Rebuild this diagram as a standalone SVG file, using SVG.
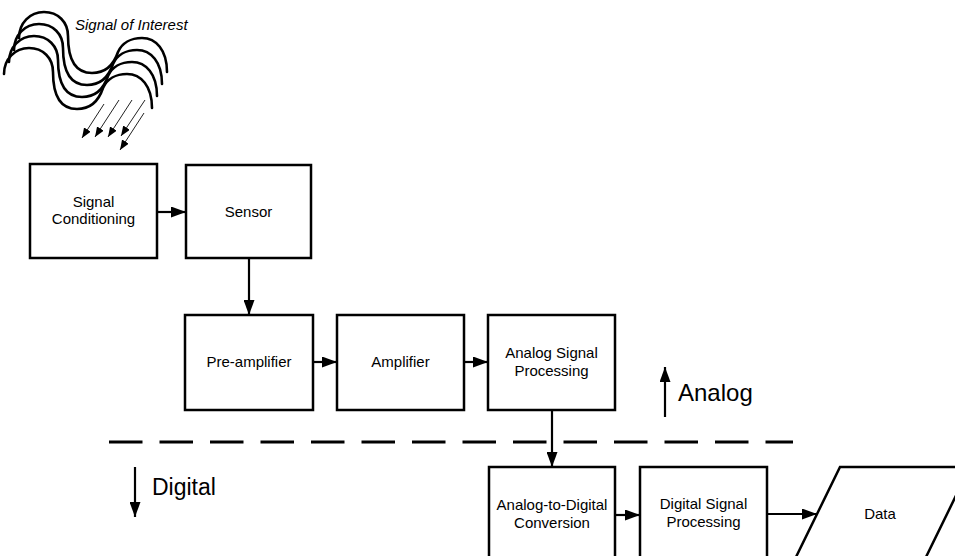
<svg xmlns="http://www.w3.org/2000/svg" xmlns:xlink="http://www.w3.org/1999/xlink" width="955" height="556" viewBox="0 0 955 556">
  <style>
    .box { fill: #fff; stroke: #000; stroke-width: 2.5; }
    .lbl { font-family: "Liberation Sans", Arial, sans-serif; font-size: 15px; fill: #000; text-anchor: middle; }
    .big { font-family: "Liberation Sans", Arial, sans-serif; font-size: 24px; fill: #000; }
    .conn { fill: none; stroke: #000; stroke-width: 2.2; }
    .wave { fill: none; stroke: #000; stroke-width: 2.6; stroke-linecap: round; }
    .ray { fill: none; stroke: #222; stroke-width: 1; }
  </style>
  <defs>
    <marker id="arrow" viewBox="0 0 15 11" markerWidth="15" markerHeight="11" refX="15" refY="5.5" orient="auto" markerUnits="userSpaceOnUse">
      <path d="M0,0 L15,5.5 L0,11 z" fill="#000"/>
    </marker>
    <marker id="rayhead" viewBox="0 0 10 8" markerWidth="10" markerHeight="8" refX="10" refY="4" orient="auto" markerUnits="userSpaceOnUse">
      <path d="M0,0 L10,4 L0,8 z" fill="#000"/>
    </marker>
    <!-- one wave front; the others are shifted copies -->
    <path id="wavecurve" class="wave" d="M19,38 C19,23 30,12 44,12 C58,12 68,22 68,36 C68,55 73,73 92,73 C107,73 114,64 118,52 C122,43 131,38 142,38 C156,38 167,50 167,72"/>
  </defs>

  <!-- incoming signal: stacked wave fronts with rays -->
  <g id="signal">
    <use xlink:href="#wavecurve"/>
    <use xlink:href="#wavecurve" transform="translate(-5,12)"/>
    <use xlink:href="#wavecurve" transform="translate(-10,24)"/>
    <use xlink:href="#wavecurve" transform="translate(-15,36)"/>
    <line class="ray" x1="104" y1="104" x2="82" y2="138" marker-end="url(#rayhead)"/>
    <line class="ray" x1="119" y1="100" x2="95" y2="137" marker-end="url(#rayhead)"/>
    <line class="ray" x1="132" y1="100" x2="108" y2="137" marker-end="url(#rayhead)"/>
    <line class="ray" x1="145" y1="100" x2="121" y2="136" marker-end="url(#rayhead)"/>
    <line class="ray" x1="144" y1="113" x2="120" y2="150" marker-end="url(#rayhead)"/>
    <text x="75" y="30" class="lbl" style="text-anchor:start;font-style:italic">Signal of Interest</text>
  </g>

  <g id="connectors">
    <line class="conn" x1="157" y1="212" x2="186" y2="212" marker-end="url(#arrow)"/>
    <line class="conn" x1="249" y1="258" x2="249" y2="315" marker-end="url(#arrow)"/>
    <line class="conn" x1="313" y1="362" x2="337" y2="362" marker-end="url(#arrow)"/>
    <line class="conn" x1="464" y1="362" x2="488" y2="362" marker-end="url(#arrow)"/>
    <line class="conn" x1="552" y1="410" x2="552" y2="467" marker-end="url(#arrow)"/>
    <line class="conn" x1="615" y1="515" x2="640" y2="515" marker-end="url(#arrow)"/>
    <line class="conn" x1="767" y1="514" x2="817" y2="514" marker-end="url(#arrow)"/>
  </g>

  <g id="signal-conditioning">
    <rect class="box" x="30" y="164" width="127" height="94"/>
    <text class="lbl" x="93.5" y="207">Signal</text>
    <text class="lbl" x="93.5" y="224">Conditioning</text>
  </g>
  <g id="sensor">
    <rect class="box" x="186" y="165" width="125" height="93"/>
    <text class="lbl" x="248.5" y="217">Sensor</text>
  </g>
  <g id="pre-amplifier">
    <rect class="box" x="185" y="315" width="128" height="95"/>
    <text class="lbl" x="249" y="367">Pre-amplifier</text>
  </g>
  <g id="amplifier">
    <rect class="box" x="337" y="315" width="127" height="95"/>
    <text class="lbl" x="400.5" y="367">Amplifier</text>
  </g>
  <g id="analog-signal-processing">
    <rect class="box" x="488" y="315" width="127" height="95"/>
    <text class="lbl" x="551.5" y="358">Analog Signal</text>
    <text class="lbl" x="551.5" y="376">Processing</text>
  </g>
  <g id="adc">
    <rect class="box" x="489" y="467" width="126" height="120"/>
    <text class="lbl" x="552" y="510">Analog-to-Digital</text>
    <text class="lbl" x="552" y="528">Conversion</text>
  </g>
  <g id="digital-signal-processing">
    <rect class="box" x="640" y="467" width="127" height="120"/>
    <text class="lbl" x="703.5" y="509">Digital Signal</text>
    <text class="lbl" x="703.5" y="527">Processing</text>
  </g>
  <g id="data">
    <polygon class="box" points="840,467 970,467 905,600 775,600"/>
    <text class="lbl" x="880" y="519">Data</text>
  </g>

  <!-- analog / digital boundary -->
  <g id="domain-boundary">
    <line x1="109" y1="442" x2="793" y2="442" stroke="#000" stroke-width="3" stroke-dasharray="33.5 17"/>
    <line class="conn" x1="665" y1="417" x2="665" y2="367" marker-end="url(#arrow)"/>
    <text class="big" x="678" y="401">Analog</text>
    <line class="conn" x1="135" y1="467" x2="135" y2="517" marker-end="url(#arrow)"/>
    <text class="big" x="152" y="495" style="font-size:23px">Digital</text>
  </g>
</svg>
